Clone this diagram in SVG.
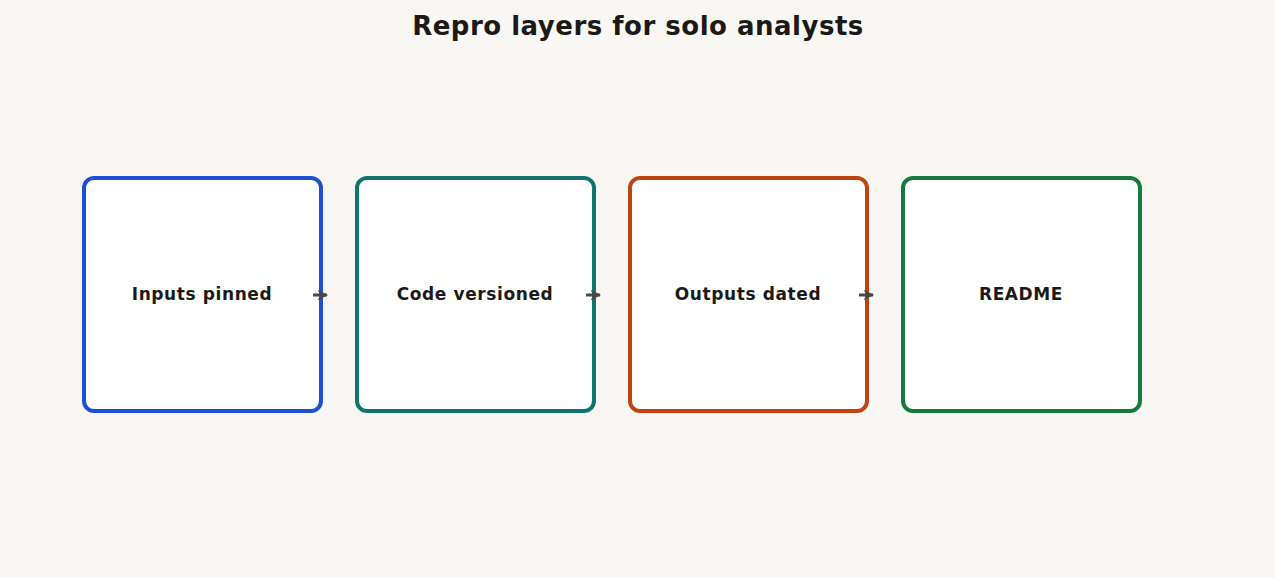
<svg xmlns="http://www.w3.org/2000/svg" width="1275" height="578" viewBox="0 0 1275 578">
<style>
.box{fill:#fff;stroke-width:4}
.lbl{font-family:"DejaVu Sans",sans-serif;font-weight:bold;font-size:17px;letter-spacing:0.6px;fill:#1c1a17;text-anchor:middle}
.c{stroke:#4a4846;stroke-width:3;fill:none}
</style>
<defs><marker id="a" viewBox="0 0 10 10" refX="9" refY="5" markerWidth="3.5" markerHeight="3.5" orient="auto"><path d="M0,0L10,5L0,10L3,5z" fill="#4a4846"/></marker></defs>
<rect width="1275" height="578" fill="#f9f7f4"/>
<text x="638" y="35" font-family="DejaVu Sans,sans-serif" font-weight="bold" font-size="26" letter-spacing="0.5" fill="#1c1a17" text-anchor="middle">Repro layers for solo analysts</text>
<g id="n1"><rect class="box" x="84" y="178" width="237" height="233" rx="10" stroke="#1f4fd6"/><text class="lbl" x="202" y="300">Inputs pinned</text></g>
<g id="n2"><rect class="box" x="357" y="178" width="237" height="233" rx="10" stroke="#12756b"/><text class="lbl" x="475" y="300">Code versioned</text></g>
<g id="n3"><rect class="box" x="630" y="178" width="237" height="233" rx="10" stroke="#c0440f"/><text class="lbl" x="748" y="300">Outputs dated</text></g>
<g id="n4"><rect class="box" x="903" y="178" width="237" height="233" rx="10" stroke="#177a3d"/><text class="lbl" x="1021" y="300">README</text></g>
<g id="connectors">
<line class="c" x1="313" y1="295" x2="327" y2="295" marker-end="url(#a)"/>
<line class="c" x1="586" y1="295" x2="600" y2="295" marker-end="url(#a)"/>
<line class="c" x1="859" y1="295" x2="873" y2="295" marker-end="url(#a)"/>
</g>
</svg>
